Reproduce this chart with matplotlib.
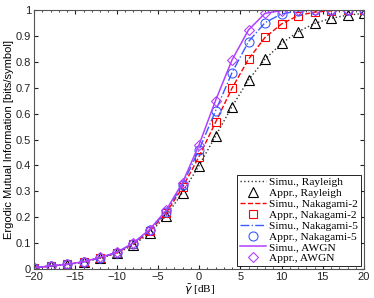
import numpy as np
import matplotlib
matplotlib.use('Agg')
import matplotlib.pyplot as plt
from matplotlib.ticker import MultipleLocator

# SNR grid (dB)
snr = np.arange(-20, 21, 2)

# ergodic mutual information
mi_rayleigh = [0.005, 0.011, 0.017, 0.026, 0.042, 0.060, 0.092, 0.138, 0.205, 0.295, 0.399,
               0.513, 0.627, 0.730, 0.810, 0.871, 0.916, 0.948, 0.968, 0.980, 0.987]
mi_nak2 = [0.005, 0.011, 0.018, 0.027, 0.043, 0.062, 0.096, 0.145, 0.215, 0.315, 0.434,
           0.566, 0.698, 0.810, 0.894, 0.946, 0.978, 0.992, 0.997, 0.999, 1.0]
mi_nak5 = [0.005, 0.012, 0.018, 0.027, 0.044, 0.063, 0.098, 0.149, 0.221, 0.325, 0.460,
           0.610, 0.758, 0.878, 0.951, 0.985, 0.996, 0.999, 1.0, 1.0, 1.0]
mi_awgn = [0.005, 0.012, 0.018, 0.028, 0.045, 0.064, 0.100, 0.152, 0.226, 0.333, 0.479,
           0.650, 0.807, 0.923, 0.987, 0.998, 1.0, 1.0, 1.0, 1.0, 1.0]

yticks = [0, 0.1, 0.2, 0.3, 0.4, 0.5, 0.6, 0.7, 0.8, 0.9, 1]
yticklabels = ['0', '0.1', '0.2', '0.3', '0.4', '0.5', '0.6', '0.7', '0.8', '0.9', '1']

plt.rcParams['font.family'] = ['Liberation Sans', 'DejaVu Sans']
serif = ['Liberation Serif', 'DejaVu Serif']

fig = plt.figure(figsize=(3.74, 2.98), dpi=100)
ax = fig.add_axes([34/374, 1 - 269/298, 330/374, 259/298])

purple = '#b040ff'
blue = '#3a5cff'

ax.plot(snr, mi_rayleigh, color='#333333', ls=':', lw=1, label='Simu., Rayleigh')
ax.plot(snr, mi_rayleigh, ls='none', marker='^', ms=6.5, mfc='none', mec='black', mew=0.8,
        label='Appr., Rayleigh')
ax.plot(snr, mi_nak2, color='red', ls='--', lw=1, label='Simu., Nakagami-2')
ax.plot(snr, mi_nak2, ls='none', marker='s', ms=5.5, mfc='none', mec='red', mew=0.8,
        label='Appr., Nakagami-2')
ax.plot(snr, mi_nak5, color=blue, ls='-.', lw=1, label='Simu., Nakagami-5')
ax.plot(snr, mi_nak5, ls='none', marker='o', ms=6.5, mfc='none', mec=blue, mew=0.8,
        label='Appr., Nakagami-5')
ax.plot(snr, mi_awgn, color=purple, ls='-', lw=1.1, label='Simu., AWGN')
ax.plot(snr, mi_awgn, ls='none', marker='D', ms=5.5, mfc='none', mec=purple, mew=0.8,
        label='Appr., AWGN')

ax.set_xlim(-20, 20)
ax.set_ylim(0, 1)
ax.xaxis.set_major_locator(MultipleLocator(5))
ax.xaxis.set_minor_locator(MultipleLocator(1))
ax.set_yticks(yticks)
ax.set_yticklabels(yticklabels)
ax.tick_params(which='both', direction='in', top=True, right=True, labelsize=8,
               colors='#222222', pad=2)
ax.tick_params(which='major', length=3)
ax.tick_params(which='minor', length=1.5)
for s in ax.spines.values():
    s.set_color('#555555')
    s.set_linewidth(0.8)

ax.set_xlabel(r'$\bar{\gamma}$ [dB]', fontsize=8, family=serif, labelpad=1)
ax.set_ylabel('Ergodic Mutual Information [bits/symbol]', fontsize=8, labelpad=1)

leg = ax.legend(loc='lower right', prop={'family': serif, 'size': 8.2}, fancybox=False,
                edgecolor='black', framealpha=1, borderpad=0.2, labelspacing=0.08,
                handlelength=2.3, handletextpad=0.3, borderaxespad=0.3)
leg.get_frame().set_linewidth(0.6)

fig.savefig('out.png', dpi=100)
